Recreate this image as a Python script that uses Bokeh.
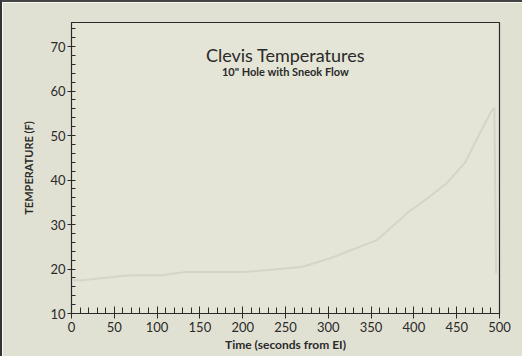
from bokeh.plotting import figure
from bokeh.models import Range1d, Label, SingleIntervalTicker
from bokeh.embed import file_html
from bokeh.resources import INLINE

# Data
time_s = [0, 14, 34, 50, 60, 76, 106, 120, 132, 170, 200, 237, 270, 305, 330, 357, 393, 420, 439, 460, 473, 490, 494, 496]
temp_f = [17.5, 17.5, 17.9, 18.2, 18.5, 18.6, 18.6, 19.0, 19.3, 19.3, 19.3, 19.9, 20.5, 22.6, 24.5, 26.5, 32.7, 36.5, 39.4, 44.0, 49.0, 55.3, 56.3, 19.0]

title_text = "Clevis Temperatures"
subtitle_text = "10\" Hole with Sneok Flow"
x_label = "Time (seconds from EI)"
y_label = "TEMPERATURE (F)"

BG = "#e1e1d3"
INK = "#2a2a2a"
FONT = "Lato"

p = figure(width=522, height=356, output_backend="svg", toolbar_location=None,
           x_range=Range1d(0, 500), y_range=Range1d(10, 75.4),
           min_border_left=69, min_border_right=25, min_border_top=20, min_border_bottom=45)
p.background_fill_color = "#e4e4d7"
p.border_fill_color = BG
p.outline_line_color = INK
p.outline_line_width = 1.2
p.grid.visible = False
p.styles = {"border-left": "2px solid #333", "border-top": "2px solid #444"}

p.line(time_s, temp_f, line_color="#d4d4c9", line_width=2)

p.xaxis.ticker = SingleIntervalTicker(interval=50, num_minor_ticks=5)
p.yaxis.ticker = SingleIntervalTicker(interval=10, num_minor_ticks=5)

for ax in (p.xaxis, p.yaxis):
    ax.axis_line_color = INK
    ax.major_tick_line_color = INK
    ax.minor_tick_line_color = INK
    ax.major_label_text_color = INK
    ax.major_label_text_font = FONT
    ax.major_label_text_font_size = "13px"
    ax.axis_label_text_font = FONT
    ax.axis_label_text_color = INK
    ax.axis_label_text_font_style = "bold"

p.xaxis.major_tick_in = 7
p.xaxis.major_tick_out = 5
p.xaxis.minor_tick_in = 6
p.xaxis.minor_tick_out = 0
p.xaxis.major_label_standoff = 3
p.xaxis.axis_label = x_label
p.xaxis.axis_label_text_font_size = "12px"
p.xaxis.axis_label_standoff = 2

p.yaxis.major_tick_in = 3
p.yaxis.major_tick_out = 4
p.yaxis.minor_tick_in = 4
p.yaxis.minor_tick_out = 0
p.yaxis.major_label_standoff = 2
p.yaxis.axis_label = y_label
p.yaxis.axis_label_text_font_size = "11px"
p.yaxis.axis_label_standoff = 12

p.add_layout(Label(x=250, y=68.1, text=title_text, text_align="center", text_baseline="middle",
                   text_font=FONT, text_font_size="18px", text_color=INK))
p.add_layout(Label(x=250, y=64.3, text=subtitle_text, text_align="center", text_baseline="middle",
                   text_font=FONT, text_font_size="11px", text_font_style="bold", text_color=INK))

open("out.html", "w").write(file_html(p, INLINE))
